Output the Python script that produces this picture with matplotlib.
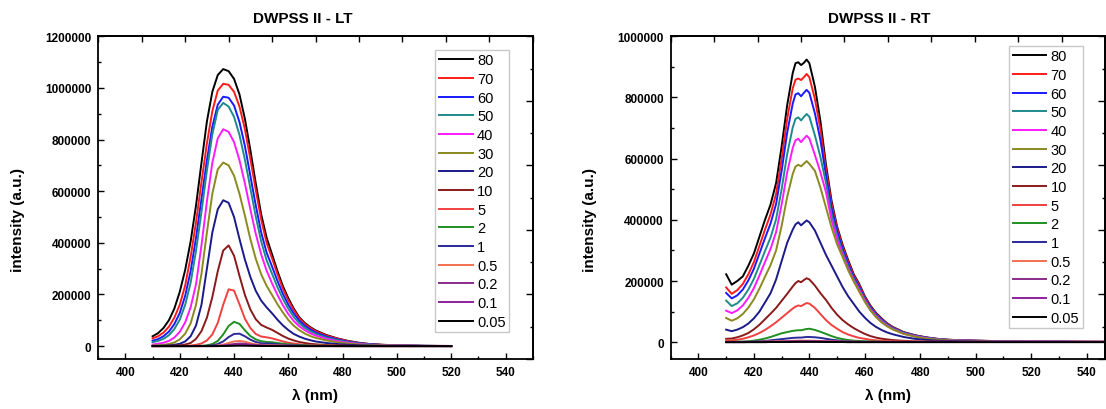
import matplotlib
matplotlib.use("Agg")
import matplotlib.pyplot as plt
import numpy as np
from matplotlib.ticker import MultipleLocator, FuncFormatter

plt.rcParams['font.family'] = ['Liberation Sans', 'DejaVu Sans']

# concentration labels and colours, same order in both panels
labels = ['80', '70', '60', '50', '40', '30', '20', '10', '5', '2', '1', '0.5', '0.2', '0.1', '0.05']
colors = ['#000000', '#ff1a1a', '#1a1aff', '#1f8a8a', '#ff1aff', '#8a8a1f', '#1a1a8a', '#8a1a1a',
          '#f24040', '#1f8f1f', '#2a2a9a', '#f2704f', '#8a2a8a', '#8f1f9f', '#000000']

# ---- LT spectra (intensity in thousands of counts) ----
wl_lt = [410, 412, 414, 416, 418, 420, 422, 424, 426, 428, 430, 432, 434, 436, 438, 440, 442, 444, 446, 448,
         450, 452, 454, 456, 458, 460, 462, 464, 466, 468, 470, 474, 478, 482, 486, 490, 495, 500, 510, 520]
lt_80 = [38, 50, 70, 100, 145, 210, 295, 405, 545, 710, 870, 985, 1050, 1073, 1065, 1035, 975, 880, 760, 630,
         510, 420, 355, 290, 232, 185, 145, 112, 90, 74, 61, 43, 30, 20, 13, 8, 5, 3, 1, 0.5]
lt_70 = [30, 38, 52, 75, 110, 160, 235, 345, 480, 635, 785, 910, 990, 1016, 1012, 985, 928, 840, 725, 605,
         490, 400, 340, 278, 222, 177, 139, 108, 86, 71, 58, 41, 29, 19, 12, 7.5, 4.5, 3, 1, 0.5]
lt_60 = [21, 27, 38, 56, 85, 128, 195, 290, 420, 570, 720, 850, 935, 966, 962, 932, 868, 775, 660, 545,
         440, 362, 308, 252, 202, 160, 126, 99, 79, 65, 53, 37, 26, 17, 11, 7, 4, 2.5, 1, 0]
lt_50 = [15, 20, 28, 42, 66, 102, 160, 245, 370, 520, 680, 820, 915, 942, 928, 888, 818, 722, 612, 502,
         405, 332, 280, 228, 183, 144, 113, 89, 71, 58, 48, 33, 23, 15, 10, 6, 3.5, 2, 1, 0]
lt_40 = [6, 9, 13, 20, 33, 55, 92, 150, 240, 390, 560, 710, 805, 840, 830, 790, 720, 630, 530, 435,
         355, 292, 243, 198, 158, 124, 97, 77, 62, 50, 41, 28, 19, 13, 8, 5, 3, 2, 0.5, 0]
lt_30 = [2, 3, 5, 8, 14, 26, 48, 88, 160, 280, 440, 590, 685, 711, 700, 660, 590, 505, 415, 338,
         278, 233, 198, 162, 130, 101, 79, 62, 49, 39, 32, 22, 15, 10, 6, 4, 2.5, 1.5, 0.5, 0]
lt_20 = [0.5, 1, 1.5, 2.5, 5, 9, 18, 38, 80, 160, 300, 440, 530, 565, 555, 500, 415, 335, 268, 214,
         176, 150, 127, 102, 80, 62, 47, 37, 29, 23, 18, 12, 8, 5, 3, 2, 1, 0.5, 0, 0]
lt_10 = [0, 0, 0.5, 1, 2, 3, 6, 12, 28, 58, 110, 190, 290, 370, 390, 350, 272, 198, 142, 104,
         82, 72, 63, 51, 39, 29, 22, 16, 12, 9, 7, 4, 2.5, 1.5, 1, 0.5, 0, 0, 0, 0]
lt_5 = [0, 0, 0, 0, 0, 0.5, 1, 2, 5, 10, 22, 45, 90, 160, 220, 215, 162, 106, 70, 47,
        37, 34, 30, 24, 18, 13, 10, 7, 5, 4, 3, 2, 1, 0.5, 0, 0, 0, 0, 0, 0]
lt_2 = [0, 0, 0, 0, 0, 0, 0, 0, 0.5, 1, 3, 8, 20, 45, 78, 94, 86, 61, 39, 26,
        19, 16, 15, 12, 9, 7, 5, 4, 3, 2, 1.5, 1, 0.5, 0, 0, 0, 0, 0, 0, 0]
lt_1 = [0, 0, 0, 0, 0, 0, 0, 0, 0, 0.5, 1, 3, 8, 18, 35, 47, 48, 38, 25, 16,
        11, 10, 9, 7, 5, 4, 3, 2, 1.5, 1, 1, 0.5, 0, 0, 0, 0, 0, 0, 0, 0]
lt_05 = [0, 0, 0, 0, 0, 0, 0, 0, 0, 0, 0, 0.5, 2, 6, 12, 18, 20, 17, 11, 7,
         5, 4, 3.5, 3, 2, 1.5, 1, 0.5, 0.5, 0, 0, 0, 0, 0, 0, 0, 0, 0, 0, 0]
lt_02 = [0, 0, 0, 0, 0, 0, 0, 0, 0, 0, 0, 0, 0.5, 2, 5, 8, 10, 9, 6, 4,
         3, 2, 2, 1.5, 1, 1, 0.5, 0, 0, 0, 0, 0, 0, 0, 0, 0, 0, 0, 0, 0]
lt_01 = [0, 0, 0, 0, 0, 0, 0, 0, 0, 0, 0, 0, 0, 1, 2.5, 4, 5, 4.5, 3, 2,
         1.5, 1, 1, 0.5, 0.5, 0, 0, 0, 0, 0, 0, 0, 0, 0, 0, 0, 0, 0, 0, 0]
lt_005 = [0, 0, 0, 0, 0, 0, 0, 0, 0, 0, 0, 0, 0, 0.3, 0.8, 1.2, 1.5, 1.3, 1, 0.6,
          0.4, 0.3, 0.2, 0.1, 0, 0, 0, 0, 0, 0, 0, 0, 0, 0, 0, 0, 0, 0, 0, 0]

# ---- RT spectra (intensity in thousands of counts) ----
wl_rt = [410, 412, 414, 416, 418, 420, 422, 424, 426, 428, 430, 432, 434, 435, 436, 437, 438, 439, 440,
         442, 444, 446, 448, 450, 452, 454, 456, 458, 460, 462, 464, 466, 468, 470,
         474, 478, 482, 486, 490, 495, 500, 510, 520, 530, 540, 550]
rt_80 = [222, 188, 200, 215, 250, 290, 345, 400, 450, 520, 640, 775, 880, 912, 915, 906, 913, 924, 912,
         835, 722, 580, 462, 378, 318, 268, 222, 190, 150, 120, 96, 78, 62, 50,
         33, 23, 16, 11, 8, 6, 5, 3, 2, 2, 1.5, 1]
rt_70 = [179, 158, 170, 190, 222, 262, 315, 368, 418, 485, 600, 730, 830, 858, 862, 857, 866, 877, 866,
         795, 695, 565, 452, 372, 312, 263, 218, 186, 147, 117, 94, 76, 61, 49,
         32, 22, 15.5, 11, 8, 6, 5, 3, 2, 1.5, 1.5, 1]
rt_60 = [161, 143, 153, 172, 202, 240, 290, 340, 388, 452, 560, 685, 780, 810, 814, 804, 815, 825, 815,
         748, 660, 545, 438, 362, 304, 256, 212, 180, 143, 114, 91, 74, 59, 47,
         31, 21.5, 15, 10.5, 7.5, 5.5, 4.5, 3, 2, 1.5, 1, 1]
rt_50 = [136, 118, 127, 145, 172, 207, 252, 298, 342, 402, 500, 615, 702, 730, 735, 725, 736, 746, 737,
         676, 605, 520, 418, 348, 294, 247, 206, 174, 139, 110, 88, 71, 57, 45,
         30, 20.5, 14, 10, 7, 5, 4, 2.5, 2, 1.5, 1, 1]
rt_40 = [103, 95, 104, 120, 145, 177, 218, 262, 305, 360, 450, 555, 635, 660, 665, 654, 665, 675, 666,
         612, 555, 490, 398, 335, 285, 240, 202, 170, 136, 107, 85, 68, 54, 43,
         28, 19.5, 13, 9, 6.5, 5, 4, 2.5, 2, 1.5, 1, 1]
rt_30 = [79, 70, 78, 92, 113, 140, 175, 214, 252, 300, 380, 475, 550, 574, 580, 575, 583, 592, 583,
         560, 505, 440, 375, 320, 278, 235, 198, 165, 132, 104, 82, 65, 52, 42,
         27, 18, 12, 8.5, 6, 4.5, 3.5, 2, 1.5, 1, 1, 1]
rt_20 = [41, 36, 41, 49, 61, 78, 100, 130, 160, 205, 265, 325, 368, 385, 392, 382, 390, 398, 392,
         365, 325, 285, 250, 215, 180, 150, 125, 100, 80, 63, 50, 40, 32, 26,
         17, 11, 7.5, 5, 4, 3, 2.5, 1.5, 1, 1, 0.5, 0.5]
rt_10 = [11, 12, 16, 22, 30, 42, 57, 75, 93, 112, 135, 158, 182, 193, 200, 196, 203, 209, 205,
         185, 160, 138, 112, 90, 72, 58, 46, 36, 27, 20, 15, 11.5, 9, 7,
         4.5, 3, 2, 1.5, 1.2, 1, 1, 0.5, 0.5, 0.5, 0.5, 0.5]
rt_5 = [5, 6, 8, 11, 16, 22, 30, 40, 52, 65, 80, 95, 110, 116, 120, 118, 123, 128, 126,
        112, 92, 72, 56, 44, 33, 25, 19, 14, 11, 8, 6, 5, 4, 3,
        2, 1.5, 1, 1, 0.5, 0.5, 0.5, 0.5, 0.5, 0.5, 0.5, 0.5]
rt_2 = [1, 1, 1.5, 2, 3, 5, 8, 12, 17, 23, 29, 33, 37, 38, 39, 39, 41, 43, 44,
        40, 34, 27, 20, 14, 10, 7, 5, 4, 3, 2.5, 2, 1.5, 1, 1,
        0.5, 0.5, 0.5, 0.5, 0.5, 0.5, 0.5, 0.5, 0.5, 0.5, 0.5, 0.5]
rt_1 = [0.5, 0.5, 1, 1, 1.5, 2, 3, 4, 6, 8, 10, 12, 14, 14.5, 15, 15, 16, 17, 17,
        16, 14, 11, 8, 6, 4, 3, 2, 1.5, 1, 1, 1, 0.5, 0.5, 0.5,
        0.5, 0.5, 0.5, 0.5, 0.5, 0.5, 0.5, 0.5, 0.5, 0.5, 0.5, 0.5]
rt_05 = [0.5, 0.5, 0.5, 0.5, 1, 1, 1.5, 2, 2.5, 3, 3.5, 4, 4.5, 4.5, 5, 5, 5, 5, 5,
         4.5, 4, 3.5, 3, 2.5, 2, 1.5, 1.5, 1, 1, 1, 1, 1, 1, 1,
         1, 1, 1, 1, 1, 1, 1, 1, 1, 1, 1, 1]
rt_02 = [0.5, 0.5, 0.5, 0.5, 0.5, 1, 1, 1, 1.5, 1.5, 2, 2, 2.5, 2.5, 2.5, 2.5, 3, 3, 3,
         2.5, 2.5, 2, 2, 1.5, 1.5, 1, 1, 1, 1, 1, 1, 1, 1, 1,
         1, 1, 1, 1, 1, 1, 1, 1, 1, 1, 1, 1]
rt_01 = [0, 0, 0, 0, 0.5, 0.5, 0.5, 0.5, 1, 1, 1, 1.5, 1.5, 1.5, 2, 2, 2, 2, 2,
         2, 1.5, 1.5, 1, 1, 1, 1, 0.5, 0.5, 0.5, 0.5, 0.5, 0.5, 0.5, 0.5,
         0.5, 0.5, 0.5, 0.5, 0.5, 0.5, 0.5, 0.5, 0.5, 0.5, 0.5, 0.5]
rt_005 = [0, 0, 0, 0, 0, 0, 0, 0, 0.5, 0.5, 0.5, 0.5, 1, 1, 1, 1, 1, 1, 1,
          1, 1, 0.5, 0.5, 0.5, 0.5, 0, 0, 0, 0, 0, 0, 0, 0, 0,
          0, 0, 0, 0, 0, 0, 0, 0, 0, 0, 0, 0]

lt_series = [lt_80, lt_70, lt_60, lt_50, lt_40, lt_30, lt_20, lt_10, lt_5, lt_2, lt_1, lt_05, lt_02, lt_01, lt_005]
rt_series = [rt_80, rt_70, rt_60, rt_50, rt_40, rt_30, rt_20, rt_10, rt_5, rt_2, rt_1, rt_05, rt_02, rt_01, rt_005]

W, H = 1106, 410
fig = plt.figure(figsize=(W / 100, H / 100), dpi=100)
ax1 = fig.add_axes([98.3 / W, 1 - 360 / H, (532.7 - 98.3) / W, (360 - 37.3) / H])
ax2 = fig.add_axes([670.7 / W, 1 - 360 / H, (1105 - 670.7) / W, (360 - 37.3) / H])


def style_panel(ax, wl, series, title, xlim, ylim, legend_anchor, title_x):
    for vals, lab, col in zip(series, labels, colors):
        ax.plot(wl, np.array(vals) * 1000, color=col, lw=1.4, label=lab)

    ax.set_xlim(*xlim)
    ax.set_ylim(*ylim)
    ax.xaxis.set_major_locator(MultipleLocator(20))
    ax.xaxis.set_minor_locator(MultipleLocator(10))
    ax.yaxis.set_major_locator(MultipleLocator(200000))
    ax.yaxis.set_minor_locator(MultipleLocator(100000))
    ax.yaxis.set_major_formatter(FuncFormatter(lambda v, p: f"{int(round(v))}"))
    ax.tick_params(which='both', direction='in', top=False, right=False, width=1.0)
    ax.tick_params(which='major', length=4, labelsize=8.5, pad=5)
    ax.tick_params(which='minor', length=2.3)
    for t in ax.get_xticklabels() + ax.get_yticklabels():
        t.set_fontweight('bold')
    for s in ax.spines.values():
        s.set_linewidth(1.3)

    # opposite axes: ten equal divisions, no labels
    top = ax.secondary_xaxis('top')
    tt = np.linspace(xlim[0], xlim[1], 11)
    top.set_xticks(tt[::2])
    top.set_xticks(tt[1::2], minor=True)
    top.tick_params(which='both', direction='in', labeltop=False, width=1.0)
    top.tick_params(which='major', length=4)
    top.tick_params(which='minor', length=4)
    right = ax.secondary_yaxis('right')
    rt = np.linspace(ylim[0], ylim[1], 11)
    right.set_yticks(rt[::2])
    right.set_yticks(rt[1::2], minor=True)
    right.tick_params(which='both', direction='in', labelright=False, width=1.0)
    right.tick_params(which='major', length=5)
    right.tick_params(which='minor', length=2.5)
    for sec in (top, right):
        for s in sec.spines.values():
            s.set_linewidth(1.3)

    ax.set_title(title, fontsize=11, fontweight='bold', x=title_x, pad=10)
    ax.set_xlabel('λ (nm)', fontsize=11, fontweight='bold')
    ax.set_ylabel('intensity (a.u.)', fontsize=11, fontweight='bold')
    ax.xaxis.set_label_coords(0.5, -0.112)
    ax.xaxis.label.set_va('center')
    ax.yaxis.set_label_coords(-0.185, 0.434)
    ax.yaxis.label.set_va('center')

    leg = ax.legend(loc='upper right', bbox_to_anchor=legend_anchor, fontsize=10.5, frameon=True,
                    fancybox=False, framealpha=1, edgecolor='#c8c8c8', borderpad=0.25,
                    labelspacing=0.32, handlelength=2.3, handletextpad=0.3, borderaxespad=0)
    leg.get_frame().set_linewidth(1.0)


style_panel(ax1, wl_lt, lt_series, 'DWPSS II - LT', (390, 550), (-50000, 1200000), (0.946, 0.958), 0.47)
style_panel(ax2, wl_rt, rt_series, 'DWPSS II - RT', (390, 546.6), (-55000, 1000000), (0.949, 0.971), 0.48)

fig.savefig('out.png', dpi=100)
